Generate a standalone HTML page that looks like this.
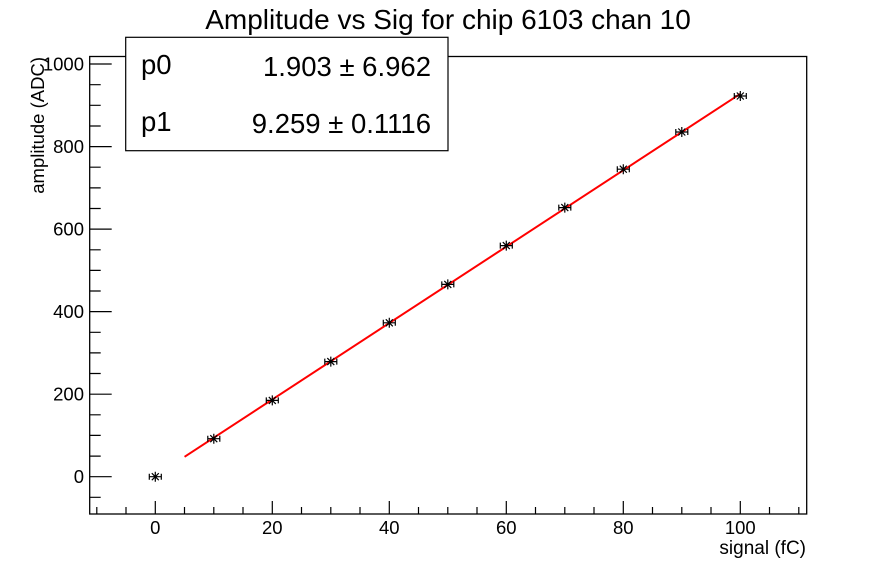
<!DOCTYPE html>
<html><head><style>body{margin:0;background:#fff}svg{display:block}text{font-family:"Liberation Sans",sans-serif}</style></head><body>
<svg width="896" height="572" xmlns="http://www.w3.org/2000/svg">
<rect width="896" height="572" fill="#fff"/>
<text x="448" y="29" font-size="28" text-anchor="middle">Amplitude vs Sig for chip 6103 chan 10</text>
<rect x="89.7" y="56.5" width="717" height="457.5" fill="none" stroke="#000" stroke-width="1.3"/>
<g stroke="#000" stroke-width="1.2">
<path d="M96.8 514v-7M126 514v-7M155.3 514v-13M184.5 514v-7M213.8 514v-7M243 514v-7M272.3 514v-13M301.5 514v-7M330.8 514v-7M360 514v-7M389.3 514v-13M418.5 514v-7M447.8 514v-7M477 514v-7M506.3 514v-13M535.5 514v-7M564.8 514v-7M594 514v-7M623.3 514v-13M652.5 514v-7M681.8 514v-7M711 514v-7M740.3 514v-13M769.5 514v-7M798.8 514v-7"/>
<path d="M89.7 497.3h11M89.7 476.7h22M89.7 456.1h11M89.7 435.4h11M89.7 414.8h11M89.7 394.2h22M89.7 373.5h11M89.7 352.9h11M89.7 332.3h11M89.7 311.6h22M89.7 291h11M89.7 270.4h11M89.7 249.8h11M89.7 229.1h22M89.7 208.5h11M89.7 187.9h11M89.7 167.2h11M89.7 146.6h22M89.7 126h11M89.7 105.3h11M89.7 84.7h11M89.7 64h22"/>
</g>
<g font-size="18.5" text-anchor="middle">
<text x="155.3" y="534">0</text><text x="272.3" y="534">20</text><text x="389.3" y="534">40</text><text x="506.3" y="534">60</text><text x="623.3" y="534">80</text><text x="740.3" y="534">100</text>
</g>
<g font-size="18.5" text-anchor="end">
<text x="84" y="483">0</text><text x="84" y="400.5">200</text><text x="84" y="318">400</text><text x="84" y="235.5">600</text><text x="84" y="153">800</text><text x="84" y="70.5">1000</text>
</g>
<text x="806" y="554" font-size="19" text-anchor="end">signal (fC)</text>
<text transform="translate(44,57) rotate(-90)" font-size="18.5" text-anchor="end">amplitude (ADC)</text>
<line x1="184.55" y1="456.8" x2="740.3" y2="93.8" stroke="#f00" stroke-width="2"/>
<g stroke="#000" stroke-width="1.2" fill="none">
<path d="M149.3 476.7h12M149.3 473.7v6M161.3 473.7v6M155.3 471.7v10M151.8 473.2l7 7M158.8 473.2l-7 7"/>
<path d="M207.8 438.7h12M207.8 435.7v6M219.8 435.7v6M213.8 433.7v10M210.3 435.2l7 7M217.3 435.2l-7 7"/>
<path d="M266.3 400.4h12M266.3 397.4v6M278.3 397.4v6M272.3 395.4v10M268.8 396.9l7 7M275.8 396.9l-7 7"/>
<path d="M324.8 361.6h12M324.8 358.6v6M336.8 358.6v6M330.8 356.6v10M327.3 358.1l7 7M334.3 358.1l-7 7"/>
<path d="M383.3 322.8h12M383.3 319.8v6M395.3 319.8v6M389.3 317.8v10M385.8 319.3l7 7M392.8 319.3l-7 7"/>
<path d="M441.8 284.4h12M441.8 281.4v6M453.8 281.4v6M447.8 279.4v10M444.3 280.9l7 7M451.3 280.9l-7 7"/>
<path d="M500.3 245.6h12M500.3 242.6v6M512.3 242.6v6M506.3 240.6v10M502.8 242.1l7 7M509.8 242.1l-7 7"/>
<path d="M558.8 207.6h12M558.8 204.6v6M570.8 204.6v6M564.8 202.6v10M561.3 204.1l7 7M568.3 204.1l-7 7"/>
<path d="M617.3 169.2h12M617.3 166.2v6M629.3 166.2v6M623.3 164.2v10M619.8 165.7l7 7M626.8 165.7l-7 7"/>
<path d="M675.8 132h12M675.8 129v6M687.8 129v6M681.8 127v10M678.3 128.5l7 7M685.3 128.5l-7 7"/>
<path d="M734.3 96h12M734.3 93v6M746.3 93v6M740.3 91v10M736.8 92.5l7 7M743.8 92.5l-7 7"/>
</g>
<rect x="125.7" y="37.3" width="322.3" height="113.4" fill="#fff" stroke="#000" stroke-width="1.2"/>
<g font-size="27.5">
<text x="141" y="74">p0</text><text x="431" y="76" text-anchor="end">1.903 ± 6.962</text>
<text x="141" y="131">p1</text><text x="431" y="133" text-anchor="end">9.259 ± 0.1116</text>
</g>
</svg>
</body></html>
